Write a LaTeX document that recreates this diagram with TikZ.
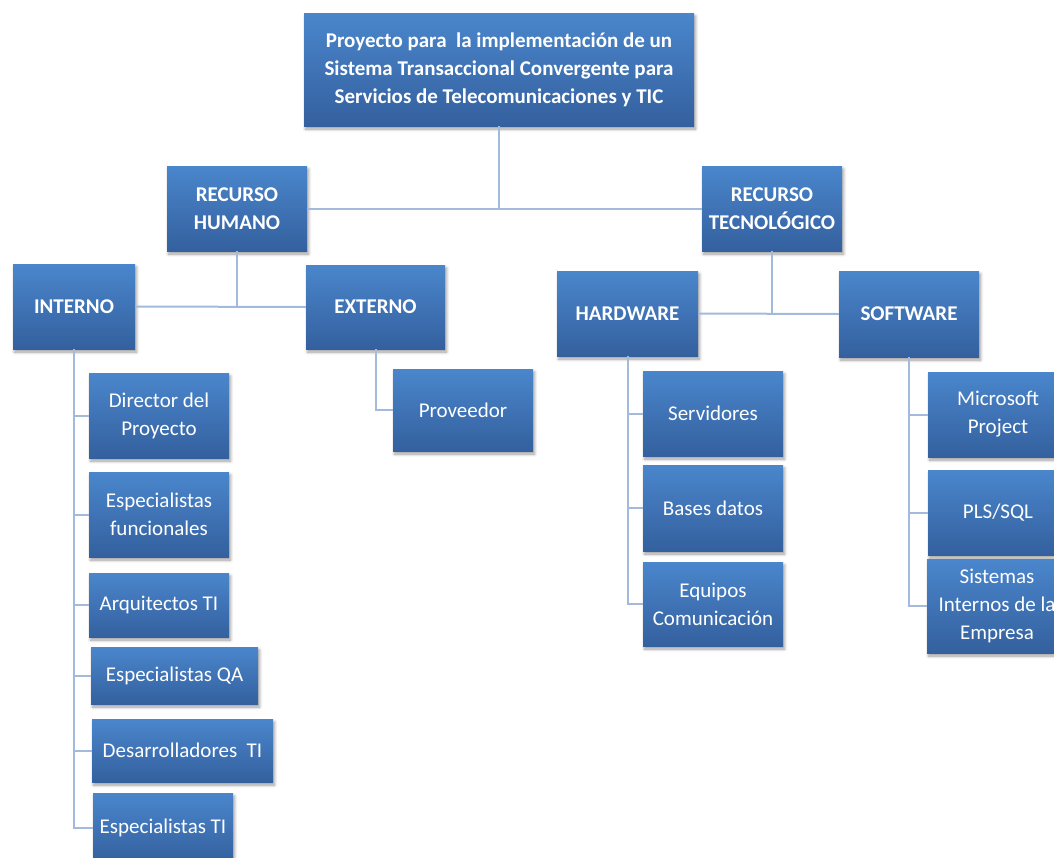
\documentclass[tikz,border=0pt]{standalone}
\usepackage{fontspec}
\setmainfont{Carlito}
\usetikzlibrary{shadows.blur}
\definecolor{boxtop}{RGB}{74,134,204}
\definecolor{boxbot}{RGB}{52,96,158}
\definecolor{linkcol}{RGB}{163,186,220}
\tikzset{
  box/.style={rectangle, draw=none, top color=boxtop, bottom color=boxbot,
    text=white, align=center, inner sep=2pt,
    font=\fontsize{21}{28}\selectfont,
    blur shadow={shadow xshift=1.5pt, shadow yshift=-3pt, shadow blur radius=3pt,
      shadow blur steps=6, shadow opacity=40}},
  headbox/.style={box, font=\fontsize{21}{28}\selectfont\bfseries},
  sz/.style 2 args={minimum width=#1pt, minimum height=#2pt},
  link/.style={draw=linkcol, line width=2pt}
}
\begin{document}
\begin{tikzpicture}[x=1pt, y=-1pt]
\useasboundingbox (0,0) rectangle (1054,857);

% root and first level
\node[headbox, sz={390}{113}] (top) at (499,69.5)
  {Proyecto para~ la implementación de un\\Sistema Transaccional Convergente para\\Servicios de Telecomunicaciones y TIC};
\node[headbox, sz={140}{85}] (rh) at (237,208.5) {RECURSO\\HUMANO};
\node[headbox, sz={140}{85}] (rt) at (772,208.5) {RECURSO\\TECNOLÓGICO};

% second level
\node[headbox, sz={122}{85}] (interno) at (74,306.5) {INTERNO};
\node[headbox, sz={139}{84}] (externo) at (375.5,307) {EXTERNO};
\node[headbox, sz={141}{85}] (hw) at (627.5,313.5) {HARDWARE};
\node[headbox, sz={140}{86}] (sw) at (909,314) {SOFTWARE};

% internal staff
\node[box, sz={140}{85}] (dir) at (159,415.5) {Director del\\Proyecto};
\node[box, sz={140}{85}] (fun) at (159,514.5) {Especialistas\\funcionales};
\node[box, sz={140}{64}] (arq) at (159,605) {Arquitectos TI};
\node[box, sz={167}{57}] (qa) at (174.5,675.5) {Especialistas QA};
\node[box, sz={181}{63}] (des) at (182.5,750.5) {Desarrolladores~ TI};
\node[box, sz={140}{70}] (eti) at (163,828) {Especialistas TI};

% external staff
\node[box, sz={140}{82}] (prov) at (463,410) {Proveedor};

% hardware
\node[box, sz={140}{85}] (serv) at (713,413.5) {Servidores};
\node[box, sz={140}{86}] (bd) at (713,508) {Bases datos};
\node[box, sz={140}{84}] (eq) at (713,604) {Equipos\\Comunicación};

% software
\node[box, sz={140}{85}] (msp) at (998,414.5) {Microsoft\\Project};
\node[box, sz={140}{85}] (pls) at (998,512.5) {PLS/SQL};
\node[box, sz={140}{94}] (sis) at (997,606) {Sistemas\\Internos de la\\Empresa};

% connectors
\draw[link] (top.south) -- (top.south |- rh.east);
\draw[link] (rh.east) -- (rt.west);
\draw[link] (rh.south) -- (rh.south |- interno.east);
\draw[link] (interno.east) -- (externo.west);
\draw[link] (rt.south) -- (rt.south |- hw.east);
\draw[link] (hw.east) -- (sw.west);
\foreach \c in {dir,fun,arq,qa,des,eti}
  \draw[link] (interno.south) |- (\c.west);
\draw[link] (externo.south) |- (prov.west);
\foreach \c in {serv,bd,eq}
  \draw[link] (hw.south) |- (\c.west);
\foreach \c in {msp,pls,sis}
  \draw[link] (sw.south) |- (\c.west);
\end{tikzpicture}
\end{document}
